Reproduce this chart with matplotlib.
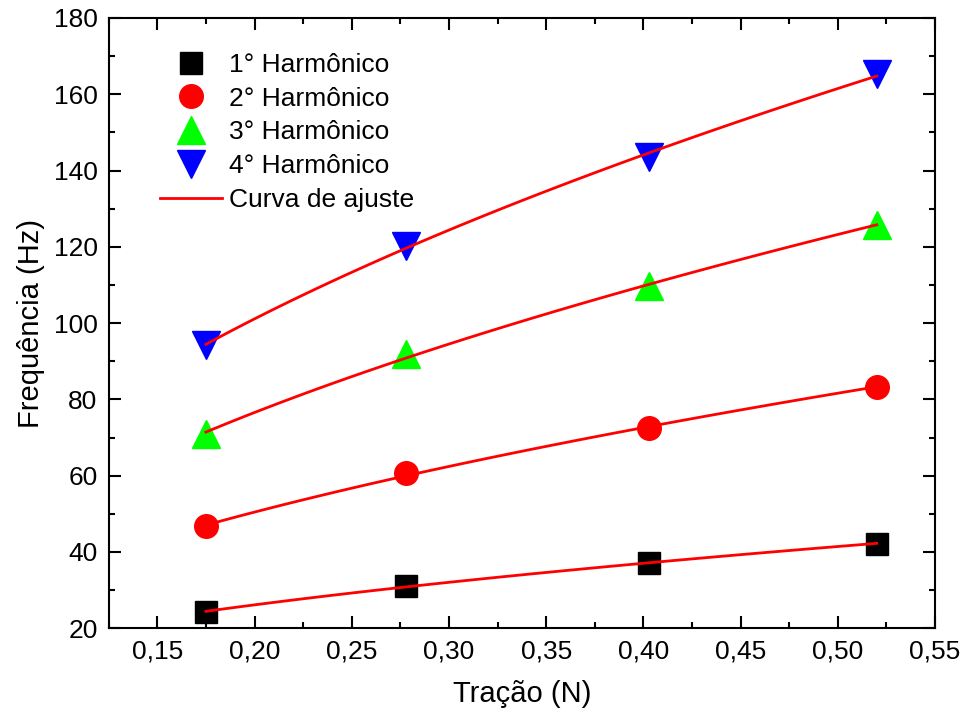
import numpy as np
import matplotlib.pyplot as plt
from matplotlib import rcParams
from matplotlib.ticker import MultipleLocator, FuncFormatter

rcParams.update({'font.family': ['Liberation Sans', 'DejaVu Sans'], 'font.size': 17})

tracao = [0.175, 0.278, 0.403, 0.52]
h1 = [24.3, 31.2, 37.0, 42.2]
h2 = [46.8, 60.6, 72.6, 83.2]
h3 = [71.0, 92.0, 109.6, 125.6]
h4 = [94.3, 120.3, 143.6, 165.3]

labels = ['1° Harmônico', '2° Harmônico', '3° Harmônico', '4° Harmônico']
markers = ['s', 'o', '^', 'v']
colors = ['black', 'red', '#00ff00', 'blue']
sizes = [16, 17, 20, 20]

fig, ax = plt.subplots(figsize=(9.62, 7.18), dpi=100)
fig.subplots_adjust(left=0.113, right=0.972, top=0.975, bottom=0.125)

x = np.array(tracao)
xs = np.linspace(x.min(), x.max(), 100)
for i, ys in enumerate([h1, h2, h3, h4]):
    ax.plot(x, ys, linestyle='none', marker=markers[i], color=colors[i],
            markersize=sizes[i], label=labels[i], zorder=2)
for i, ys in enumerate([h1, h2, h3, h4]):
    # power-law fit f = a*T^b
    b, lna = np.polyfit(np.log(x), np.log(ys), 1)
    ax.plot(xs, np.exp(lna) * xs ** b, color='red', lw=2, zorder=3,
            label='Curva de ajuste' if i == 0 else None)

ax.set_xlim(0.125, 0.55)
ax.set_ylim(20, 180)
ax.xaxis.set_major_locator(MultipleLocator(0.05))
ax.xaxis.set_minor_locator(MultipleLocator(0.025))
ax.yaxis.set_major_locator(MultipleLocator(20))
ax.yaxis.set_minor_locator(MultipleLocator(10))
ax.xaxis.set_major_formatter(FuncFormatter(lambda v, p: ('%.2f' % v).replace('.', ',')))
ax.tick_params(which='both', direction='in', top=True, right=True, width=1.5)
ax.tick_params(which='major', length=8.5, labelsize=19, pad=8)
ax.tick_params(which='minor', length=4.5)
for s in ax.spines.values():
    s.set_linewidth(1.5)

ax.set_xlabel('Tração (N)', fontsize=21, labelpad=12)
ax.set_ylabel('Frequência (Hz)', fontsize=21, labelpad=6)

ax.legend(loc='upper left', frameon=False, fontsize=19, handlelength=2.35,
          handletextpad=0.25, labelspacing=0.37, borderaxespad=0, borderpad=0,
          bbox_to_anchor=(0.062, 0.943))

fig.savefig('out.png', dpi=100)
